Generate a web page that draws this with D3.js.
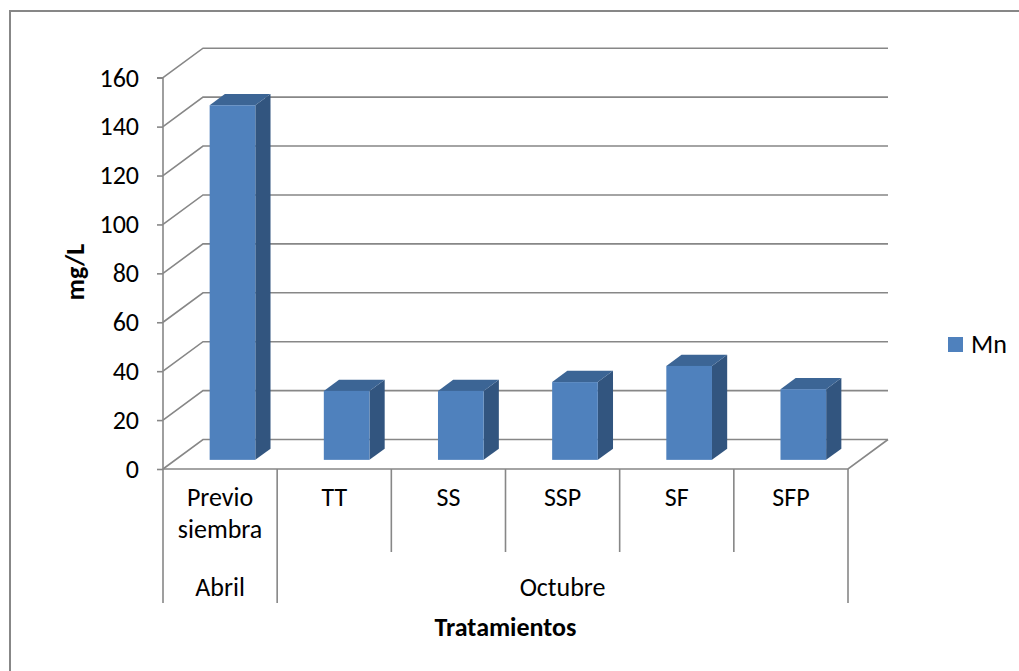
<!DOCTYPE html>
<html>
<head>
<meta charset="utf-8">
<script src="https://cdn.jsdelivr.net/npm/d3@7"></script>
<style>
  body { margin: 0; background: #fff; }
  svg text { font-family: Carlito, Lato, "Open Sans", sans-serif; fill: #000; }
</style>
</head>
<body>
<div id="chart"></div>
<script>
var categories = ["Previo siembra", "TT", "SS", "SSP", "SF", "SFP"];
var months = ["Abril", "Octubre", "Octubre", "Octubre", "Octubre", "Octubre"];
var mnValues = [145, 28.2, 28.2, 31.8, 38.4, 28.9];
var yTicks = [0, 20, 40, 60, 80, 100, 120, 140, 160];
var seriesName = "Mn";

var svgWidth = 1019;
var svgHeight = 671;
var fontSize = "26px";

// front plane of the 3d box and the depth shift to the back wall
var left = 163, right = 848;
var depthX = 40, depthY = -29.5;
var barZ0 = 0.31, barZ1 = 0.69;

var svg = d3.select("#chart").append("svg").attr("width", svgWidth).attr("height", svgHeight);

// outer chart border (only top and left are in view)
svg.append("rect").attr("x", 10).attr("y", 11).attr("width", 1030).attr("height", 680)
  .attr("fill", "none").attr("stroke", "#878787").attr("stroke-width", 2);

var yScale = d3.scaleLinear().domain([0, 160]).range([469, 77.7]);
var xScale = d3.scaleBand().domain(categories).range([left, right]).paddingInner(0.6).paddingOuter(0.3);
var step = xScale.step();

var grid = "#878787";
var pts = function(a) { return a.map(p => p.join(",")).join(" "); };

// back wall gridlines with the diagonal on the side wall
yTicks.forEach(function(t) {
  var y = yScale(t);
  svg.append("polyline")
    .attr("points", pts([[left, y], [left + depthX, y + depthY], [right + depthX, y + depthY]]))
    .attr("fill", "none").attr("stroke", grid).attr("stroke-width", 1.6);
});

// floor front edge and right edge
var y0 = yScale(0);
svg.append("polyline")
  .attr("points", pts([[left, y0], [right, y0], [right + depthX, y0 + depthY]]))
  .attr("fill", "none").attr("stroke", grid).attr("stroke-width", 1.6);

// front value axis
var leftAxis = d3.axisLeft(yScale).tickValues(yTicks).tickSize(6).tickPadding(18).tickFormat(d3.format("d"));
var axisG = svg.append("g").attr("transform", `translate(${left},0)`).call(leftAxis);
axisG.select(".domain").attr("stroke", grid).attr("stroke-width", 1.6).attr("d", `M-6,${yScale(160)}H0V${y0}`);
axisG.selectAll(".tick line").attr("stroke", grid).attr("stroke-width", 1.6);
axisG.selectAll(".tick text").style("font-size", fontSize).attr("fill", "#000");

// category separators below the floor
var bounds = categories.map(function(c) { return xScale(c) - xScale.paddingInner() * step / 2; });
bounds.push(right);
bounds.forEach(function(b, i) {
  var groupEdge = i === 0 || i === bounds.length - 1 || months[i] !== months[i - 1];
  svg.append("line").attr("x1", b).attr("x2", b).attr("y1", y0).attr("y2", groupEdge ? 603 : 552)
    .attr("stroke", grid).attr("stroke-width", 1.6);
});

// category labels
categories.forEach(function(c) {
  var cx = xScale(c) + xScale.bandwidth() / 2;
  var words = c.split(" ");
  var t = svg.append("text").attr("x", cx).attr("y", 506).attr("text-anchor", "middle").style("font-size", fontSize);
  words.forEach(function(w, i) {
    t.append("tspan").attr("x", cx).attr("dy", i === 0 ? 0 : 32).text(w);
  });
});

// month group labels
var groups = Array.from(new Set(months));
groups.forEach(function(g) {
  var first = months.indexOf(g), last = months.lastIndexOf(g);
  var cx = (bounds[first] + bounds[last + 1]) / 2;
  svg.append("text").attr("x", cx).attr("y", 596).attr("text-anchor", "middle").style("font-size", fontSize).text(g);
});

// bars
var faceColor = "#4F81BD", topColor = "#3C6595", sideColor = "#32557F";
categories.forEach(function(c, i) {
  var x1 = xScale(c) + barZ0 * depthX;
  var x2 = x1 + xScale.bandwidth();
  var ox = (barZ1 - barZ0) * depthX, oy = (barZ1 - barZ0) * depthY;
  var yb = yScale(0) + barZ0 * depthY;
  var yt = yScale(mnValues[i]) + barZ0 * depthY;
  svg.append("polygon").attr("points", pts([[x2, yb], [x2 + ox, yb + oy], [x2 + ox, yt + oy], [x2, yt]])).attr("fill", sideColor);
  svg.append("polygon").attr("points", pts([[x1, yt], [x1 + ox, yt + oy], [x2 + ox, yt + oy], [x2, yt]])).attr("fill", topColor);
  svg.append("rect").attr("x", x1).attr("y", yt).attr("width", x2 - x1).attr("height", yb - yt).attr("fill", faceColor);
});

// axis titles
svg.append("text").attr("transform", `translate(84,272) rotate(-90)`).attr("text-anchor", "middle")
  .style("font-size", fontSize).style("font-weight", "bold").text("mg/L");
svg.append("text").attr("x", (left + right) / 2).attr("y", 636).attr("text-anchor", "middle")
  .style("font-size", fontSize).style("font-weight", "bold").text("Tratamientos");

// legend
svg.append("rect").attr("x", 948).attr("y", 337).attr("width", 15).attr("height", 15).attr("fill", faceColor);
svg.append("text").attr("x", 971).attr("y", 353).style("font-size", fontSize).text(seriesName);
</script>
</body>
</html>
